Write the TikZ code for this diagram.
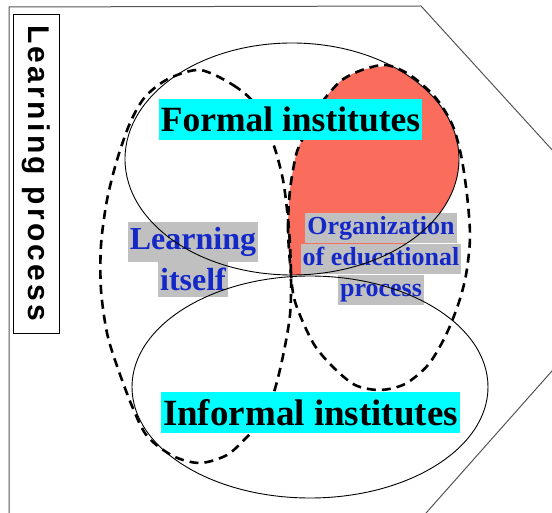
\documentclass[tikz,border=0pt]{standalone}
\usepackage{fontspec}
\setmainfont{Liberation Serif}
\newfontfamily\sidefont[LetterSpace=11]{Liberation Sans}
\usepackage{tikz}
\usetikzlibrary{positioning}
\definecolor{setcyan}{RGB}{0,255,255}
\definecolor{labelgrey}{RGB}{192,192,192}
\definecolor{labelblue}{RGB}{20,40,200}
\definecolor{blobred}{RGB}{250,108,92}
\definecolor{framegrey}{RGB}{85,85,85}

\begin{document}
\begin{tikzpicture}[x=1pt, y=-1pt, node distance=0pt,
		institute/.style={fill=setcyan, inner xsep=2pt, inner ysep=0pt, minimum height=41pt},
		part/.style={fill=labelgrey, text=labelblue, inner xsep=2pt},
		border/.style={draw=black, line width=0.9pt},
		area/.style={draw=black, line width=2.6pt, dash pattern=on 9pt off 6pt, line join=round}]
			\useasboundingbox (0,0) rectangle (552,513);
			\clip (0,0) rectangle (552,513);
			% frame
			\draw[framegrey, line width=1pt] (9,530) -- (9,7) -- (421,6) -- (575,175) -- (575,345) -- (411,530);
			\node[draw, line width=0.8pt, rotate=-90, minimum width=319pt, minimum height=46pt, inner sep=0pt, font=\sidefont\bfseries\fontsize{30}{30}\selectfont] (side) at (36,173.5) {Learning process};
			% red part
			\begin{scope}
				\clip (292,159) ellipse [x radius=167, y radius=116];
				\fill[blobred] plot[smooth] coordinates {(290,276) (288,230) (290,190) (296,155) (302,140) (313,115) (326,97) (342,80) (362,70) (386,66)} -- (486,40) -- (486,300) -- (290,300) -- cycle;
			\end{scope}
			% grey labels
			\node[part, inner ysep=5pt, text height=23pt, text depth=7pt, font=\bfseries\fontsize{32}{32}\selectfont] (learn1) at (193,242) {Learning};
			\node[part, inner ysep=5pt, text height=23pt, text depth=2pt, font=\bfseries\fontsize{32}{32}\selectfont, below=of learn1] (learn2) {itself};
			\node[part, inner ysep=2.75pt, text height=19pt, text depth=6pt, font=\bfseries\fontsize{26}{26}\selectfont] (org1) at (381,228) {Organization};
			\node[part, inner ysep=2.75pt, text height=19pt, text depth=6pt, font=\bfseries\fontsize{26}{26}\selectfont, below=of org1] (org2) {of educational};
			\node[part, inner ysep=2.75pt, text height=19pt, text depth=6pt, font=\bfseries\fontsize{26}{26}\selectfont, below=of org2] (org3) {process};
			% sets
			\draw[border] (292,159) ellipse [x radius=167, y radius=116];
			\draw[border] (310,387) ellipse [x radius=178, y radius=111];
			% dashed areas
			\draw[area] plot[smooth cycle] coordinates {(200,70) (233,85) (256,105) (272,140) (283,180) (289,230) (291,275) (290,315) (283,356) (274,392) (262,420) (247,437) (227,455) (200,463) (173,456) (147,436) (132,406) (117,366) (107,333) (101,290) (101,245) (107,200) (117,160) (130,123) (145,97) (168,79)};
			\draw[area] plot[smooth cycle] coordinates {(291,275) (288,230) (290,190) (296,155) (302,140) (313,115) (326,97) (342,80) (362,70) (386,65) (410,75) (435,97) (452,124) (461,155) (467,195) (470,237) (466,275) (458,305) (445,337) (428,365) (405,384) (380,390) (355,385) (333,367) (315,346) (302,320) (294,298)};
			% institutes
			\node[institute, font=\bfseries\fontsize{35.5}{36}\selectfont] (formal) at (290.5,119.5) {Formal institutes};
			\node[institute, font=\bfseries\fontsize{37}{37}\selectfont] (informal) at (310.5,412.5) {Informal institutes};
		\end{tikzpicture}
\end{document}
